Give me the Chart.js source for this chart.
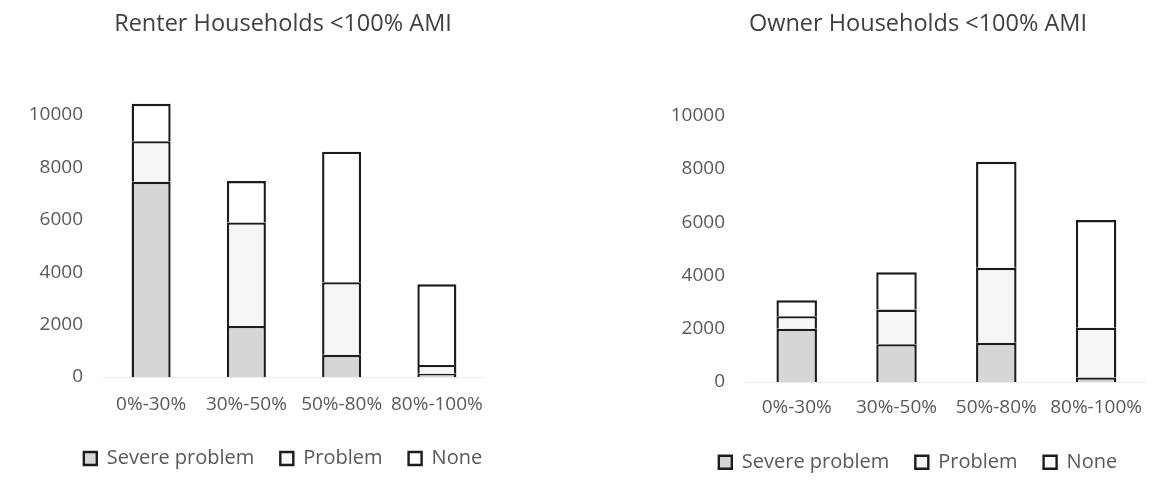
<!DOCTYPE html>
<html>
<head>
<meta charset="utf-8">
<script src="https://cdn.jsdelivr.net/npm/chart.js@4.4.0/dist/chart.umd.min.js"></script>
<style>
  html, body { margin: 0; padding: 0; background: #fff; overflow: hidden; }
  .box { position: absolute; top: 0; }
  #renterBox { left: 0; width: 566px; height: 494px; }
  #ownerBox { left: 663px; width: 510px; height: 498px; }
</style>
</head>
<body>
<div class="box" id="renterBox"><canvas id="renterChart"></canvas></div>
<div class="box" id="ownerBox"><canvas id="ownerChart"></canvas></div>
<script>
const categories = ['0%-30%', '30%-50%', '50%-80%', '80%-100%']
const seriesNames = ['Severe problem', 'Problem', 'None']
const yTicks = [0, 2000, 4000, 6000, 8000, 10000]

// Renter households
const renterSevere = [7450, 1950, 850, 120]
const renterProblem = [1550, 3950, 2770, 340]
const renterNone = [1430, 1580, 4980, 3080]

// Owner households
const ownerSevere = [2000, 1420, 1470, 170]
const ownerProblem = [470, 1300, 2820, 1870]
const ownerNone = [600, 1400, 3980, 4040]

const fills = ['#d6d6d6', '#f6f6f6', '#ffffff']
const font = '"Open Sans", "DejaVu Sans", sans-serif'

function makeChart(id, title, values, g) {
    new Chart(document.getElementById(id), {
        type: 'bar',
        data: {
            labels: categories,
            datasets: values.map((v, i) => ({
                label: seriesNames[i],
                data: v,
                backgroundColor: fills[i],
                borderColor: '#1c1c1c',
                borderWidth: 2.4,
                borderSkipped: 'bottom', // segment below draws the divider
                categoryPercentage: 1,
                barPercentage: g.barPct
            }))
        },
        options: {
            responsive: true,
            maintainAspectRatio: false,
            animation: false,
            layout: { padding: { left: 0, right: 0, top: 0, bottom: g.bottomPad } },
            plugins: {
                title: {
                    display: true,
                    text: title,
                    color: '#404040',
                    font: { family: font, size: 23.5, weight: 'normal', lineHeight: 1.2 },
                    padding: { top: 10.3, bottom: g.titleBottom }
                },
                legend: {
                    position: 'bottom',
                    labels: {
                        color: '#595959',
                        font: { family: font, size: 20 },
                        boxWidth: 13,
                        boxHeight: 13,
                        padding: 26
                    }
                },
                tooltip: { enabled: false }
            },
            scales: {
                x: {
                    stacked: true,
                    grid: { display: false, drawTicks: false },
                    border: { display: true, color: '#ececec' },
                    ticks: { color: '#595959', font: { family: font, size: 19 }, padding: g.xPad, maxRotation: 0 },
                    afterFit: s => { s.height = g.xHeight }
                },
                y: {
                    stacked: true,
                    min: 0,
                    max: 10600,
                    grid: { display: false, drawTicks: false },
                    border: { display: false },
                    ticks: {
                        color: '#595959',
                        font: { family: font, size: 19 },
                        padding: g.yPad,
                        callback: v => String(v)
                    },
                    afterBuildTicks: s => { s.ticks = yTicks.map(v => ({ value: v })) },
                    afterFit: s => { s.width = g.yWidth }
                },
                yRight: {
                    position: 'right',
                    grid: { display: false, drawTicks: false },
                    border: { display: false },
                    ticks: { display: false },
                    afterFit: s => { s.width = g.rightWidth }
                }
            }
        }
    })
}

makeChart('renterChart', 'Renter Households <100% AMI', [renterSevere, renterProblem, renterNone], {
    barPct: 0.41, yWidth: 103.5, yPad: 20.5, rightWidth: 81.5,
    xHeight: 45.5, xPad: 16, titleBottom: 60.8, bottomPad: 15.5
})

makeChart('ownerChart', 'Owner Households <100% AMI', [ownerSevere, ownerProblem, ownerNone], {
    barPct: 0.406, yWidth: 83.8, yPad: 21.8, rightWidth: 27,
    xHeight: 44.2, xPad: 14, titleBottom: 61.2, bottomPad: 15.8
})
</script>
</body>
</html>
